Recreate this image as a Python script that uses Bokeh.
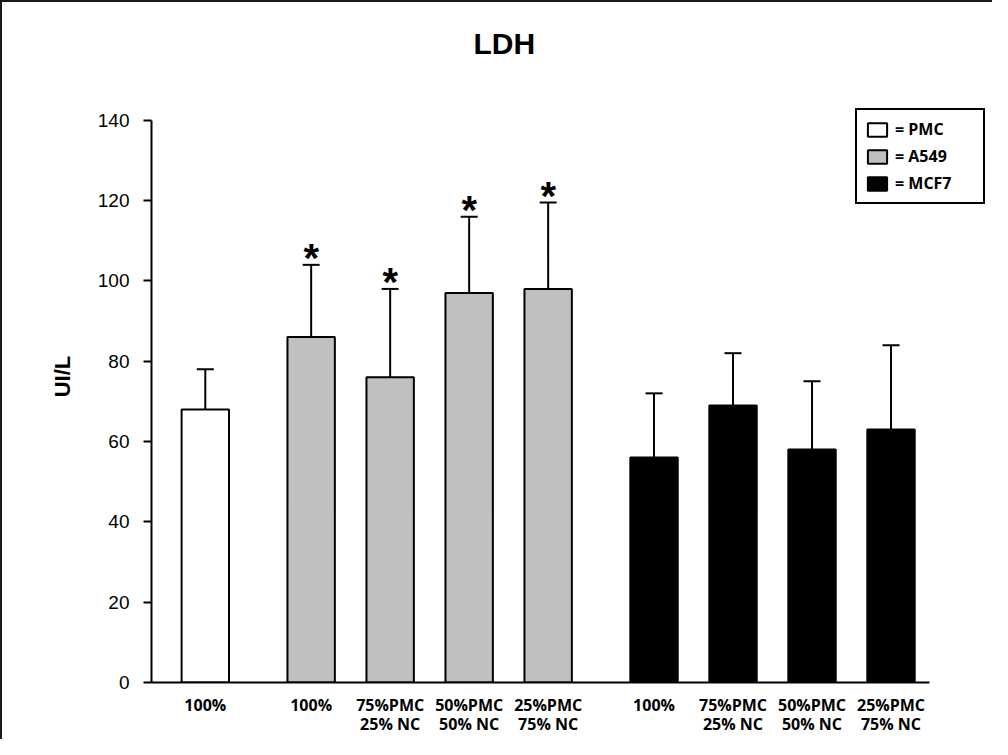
from bokeh.plotting import figure
from bokeh.models import (Range1d, FixedTicker, Whisker, TeeHead, ColumnDataSource,
                          Legend, LegendItem)
from bokeh.core.properties import value
from bokeh.embed import file_html
from bokeh.resources import INLINE

# ---------------- data ----------------
chart_title = "LDH"
y_label = "UI/L"
groups = ["PMC", "A549", "MCF7"]
pmc_labels = ["100%"]
a549_labels = ["100%", "75%PMC\n25% NC", "50%PMC\n50% NC", "25%PMC\n75% NC"]
mcf7_labels = ["100%", "75%PMC\n25% NC", "50%PMC\n50% NC", "25%PMC\n75% NC"]
pmc_mean = [68]
pmc_sd = [10]
a549_mean = [86, 76, 97, 98]
a549_sd = [18, 22, 19, 21.5]
mcf7_mean = [56, 69, 58, 63]
mcf7_sd = [16, 13, 17, 21]
a549_significant = [True, True, True, True]
y_ticks = [0, 20, 40, 60, 80, 100, 120, 140]

# ---------------- style / layout ----------------
fills = {"PMC": "#ffffff", "A549": "#c0c0c0", "MCF7": "#000000"}
GROUP_STEP = 1.34      # distance between last bar of a group and first of next
BAR_W = 0.6
PX_X = 79.0            # pixels per x unit
PX_Y = 4.016           # pixels per y unit
FRAME_W = 837
FRAME_H = 612
X_START = -0.681
X_AXIS_END = 9.167

means = {"PMC": pmc_mean, "A549": a549_mean, "MCF7": mcf7_mean}
sds = {"PMC": pmc_sd, "A549": a549_sd, "MCF7": mcf7_sd}
labels = {"PMC": pmc_labels, "A549": a549_labels, "MCF7": mcf7_labels}

positions = {}
start = 0.0
for g in groups:
    n = len(means[g])
    positions[g] = [start + i for i in range(n)]
    start = positions[g][-1] + GROUP_STEP

p = figure(width=992, height=739, output_backend="svg", toolbar_location=None,
           x_range=Range1d(X_START, X_START + FRAME_W / PX_X),
           y_range=Range1d(0, FRAME_H / PX_Y),
           min_border_left=149, min_border_right=6,
           min_border_top=68, min_border_bottom=59)
p.styles = {"border-left": "2px solid #1a1a1a", "border-top": "2px solid #1a1a1a"}
p.outline_line_color = None
p.xgrid.visible = False
p.ygrid.visible = False
p.background_fill_color = "white"
p.border_fill_color = "white"

p.title.text = chart_title
p.title.align = "left"
p.title.offset = 322
p.title.standoff = 22
p.title.text_font = "Liberation Sans"
p.title.text_font_size = "30px"
p.title.text_font_style = "bold"
p.title.text_color = "black"

renderers = {}
all_ticks = []
all_labels = {}
for g in groups:
    upper = [m + s for m, s in zip(means[g], sds[g])]
    src = ColumnDataSource(dict(x=positions[g], top=means[g], upper=upper))
    r = p.vbar(x="x", top="top", width=BAR_W, bottom=0, source=src,
               fill_color=fills[g], line_color="black", line_width=2)
    renderers[g] = r
    w = Whisker(source=src, base="x", upper="upper", lower="top", dimension="height",
                line_color="black", line_width=2, lower_head=None,
                upper_head=TeeHead(size=17, line_color="black", line_width=2))
    p.add_layout(w)
    for xv, lab in zip(positions[g], labels[g]):
        all_ticks.append(xv)
        all_labels[xv] = lab

# significance asterisks
star_x = [x for x, s in zip(positions["A549"], a549_significant) if s]
star_y = [m + s for m, s, f in zip(a549_mean, a549_sd, a549_significant) if f]
p.text(x=star_x, y=star_y, text=["*"] * len(star_x), text_align="center",
       text_baseline="alphabetic", y_offset=-7, text_font=value("Liberation Sans"),
       text_font_size="40px", text_font_style="bold", text_color="black")

# axes
xa = p.xaxis[0]
xa.ticker = FixedTicker(ticks=all_ticks)
xa.major_label_overrides = all_labels
xa.bounds = (X_START, X_AXIS_END)
xa.axis_line_width = 2
xa.axis_line_color = "black"
xa.major_tick_line_color = None
xa.minor_tick_line_color = None
xa.major_label_standoff = 5
xa.major_label_text_font = "Open Sans"
xa.major_label_text_font_style = "bold"
xa.major_label_text_font_size = "16px"
xa.major_label_text_line_height = 0.9
xa.major_label_text_color = "black"

ya = p.yaxis[0]
ya.ticker = FixedTicker(ticks=y_ticks)
ya.bounds = (y_ticks[0], y_ticks[-1])
ya.axis_line_width = 2
ya.axis_line_color = "black"
ya.major_tick_line_width = 2
ya.major_tick_line_color = "black"
ya.major_tick_out = 8
ya.major_tick_in = 0
ya.minor_tick_line_color = None
ya.major_label_standoff = 14
ya.major_label_text_font = "Liberation Sans"
ya.major_label_text_font_size = "19px"
ya.major_label_text_color = "black"
ya.axis_label = y_label
ya.axis_label_text_font = "Liberation Sans"
ya.axis_label_text_font_style = "bold"
ya.axis_label_text_font_size = "22px"
ya.axis_label_text_color = "black"
ya.axis_label_standoff = 20

legend = Legend(items=[LegendItem(label="= " + g, renderers=[renderers[g]]) for g in groups],
                location=(704, 478), margin=0, padding=8, spacing=5,
                glyph_width=24, glyph_height=17, label_height=17, label_width=80,
                label_standoff=6, border_line_color="black", border_line_width=2,
                border_line_alpha=1.0,
                background_fill_color="white", background_fill_alpha=1.0,
                label_text_font="Open Sans", label_text_font_style="bold",
                label_text_font_size="16px", label_text_color="black")
p.add_layout(legend)

open("out.html", "w").write(file_html(p, INLINE))
